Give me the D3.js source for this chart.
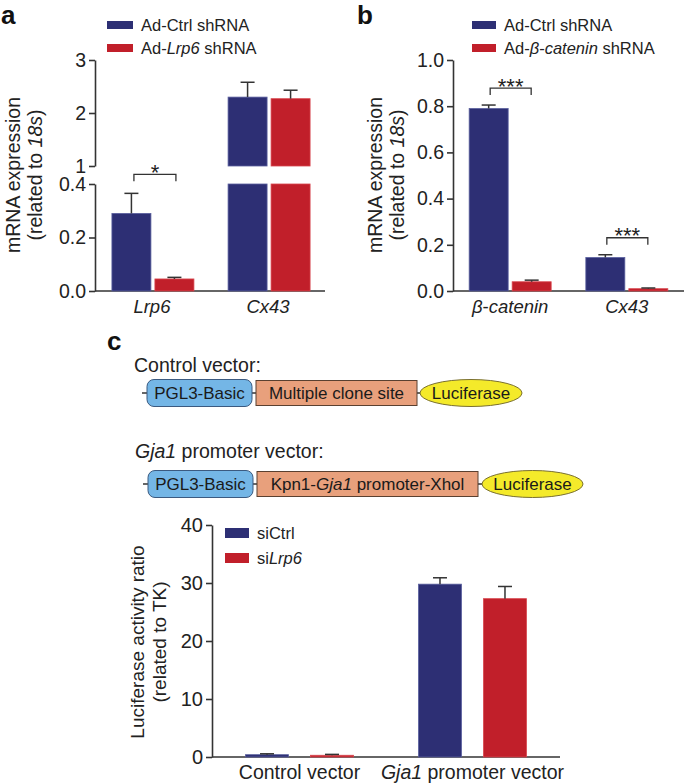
<!DOCTYPE html>
<html>
<head>
<meta charset="utf-8">
<script src="https://cdn.jsdelivr.net/npm/d3@7"></script>
<style>
  html, body { margin: 0; padding: 0; background: #fff; }
  svg { display: block; font-family: "Liberation Sans", Arial, Helvetica, sans-serif; }
</style>
</head>
<body>
<svg id="chart" width="685" height="784"></svg>
<script>
// ---------------- DATA ----------------
// Panel a
const categoriesA = ["Lrp6", "Cx43"];
const seriesNamesA = ["Ad-Ctrl shRNA", "Ad-Lrp6 shRNA"];
const ctrlA = [0.29, 2.30];
const ctrlErrA = [0.075, 0.28];
const shA = [0.045, 2.27];
const shErrA = [0.006, 0.16];
const ticksLowA = [0.0, 0.2, 0.4];
const ticksHighA = [1, 2, 3];
const sigA = ["*", ""];

// Panel b
const categoriesB = ["β-catenin", "Cx43"];
const seriesNamesB = ["Ad-Ctrl shRNA", "Ad-β-catenin shRNA"];
const ctrlB = [0.79, 0.145];
const ctrlErrB = [0.015, 0.012];
const shB = [0.04, 0.01];
const shErrB = [0.007, 0.003];
const ticksB = [0.0, 0.2, 0.4, 0.6, 0.8, 1.0];
const sigB = ["***", "***"];

// Panel c
const categoriesC = ["Control vector", "Gja1 promoter vector"];
const seriesNamesC = ["siCtrl", "siLrp6"];
const siCtrl = [0.4, 29.8];
const siCtrlErr = [0.15, 1.1];
const siLrp6 = [0.3, 27.3];
const siLrp6Err = [0.15, 2.1];
const ticksC = [0, 10, 20, 30, 40];

// ---------------- STYLE ----------------
const BLUE = "#2d2f74", BLUE_S = "#5a5f9e";
const RED = "#c11f2a", RED_S = "#d8464e";
const AX = "#333";
const FONT = "'Liberation Sans', Arial, Helvetica, sans-serif";

const svg = d3.select("#chart");

function italicParts(sel, parts) {
  parts.forEach(([t, it]) => {
    sel.append("tspan").text(t).attr("font-style", it ? "italic" : "normal");
  });
}

function legend(g, x, y, names, partsList, sw, sh, gap, fs) {
  names.forEach((n, i) => {
    g.append("rect").attr("x", x).attr("y", y + i * gap).attr("width", sw).attr("height", sh)
      .attr("fill", i === 0 ? BLUE : RED);
    const t = g.append("text").attr("x", x + sw + 8).attr("y", y + i * gap + sh / 2)
      .attr("dy", "0.36em").attr("font-size", fs).attr("fill", "#222");
    italicParts(t, partsList[i]);
  });
}

function errBar(g, cx, yTop, yVal, cap) {
  g.append("line").attr("x1", cx).attr("x2", cx).attr("y1", yVal).attr("y2", yTop)
    .attr("stroke", AX).attr("stroke-width", 1.5);
  g.append("line").attr("x1", cx - cap / 2).attr("x2", cx + cap / 2).attr("y1", yTop).attr("y2", yTop)
    .attr("stroke", AX).attr("stroke-width", 1.5);
}

function sigBracket(g, x1, x2, y, label) {
  g.append("path").attr("d", `M${x1},${y + 7}V${y}H${x2}V${y + 7}`)
    .attr("fill", "none").attr("stroke", AX).attr("stroke-width", 1.3);
  g.append("text").attr("x", (x1 + x2) / 2).attr("y", y + 5.5).attr("text-anchor", "middle")
    .attr("font-size", 22).attr("fill", "#222").text(label);
}

function yLabel(g, x1, x2, cy, line1, line2parts, fs) {
  g.append("text").attr("transform", `translate(${x1},${cy}) rotate(-90)`)
    .attr("text-anchor", "middle").attr("dy", "0.35em").attr("font-size", fs).attr("fill", "#222")
    .text(line1);
  const t = g.append("text").attr("transform", `translate(${x2},${cy}) rotate(-90)`)
    .attr("text-anchor", "middle").attr("dy", "0.35em").attr("font-size", fs).attr("fill", "#222");
  italicParts(t, line2parts);
}

function styleAxis(ax, fs) {
  ax.select(".domain").attr("stroke", AX).attr("stroke-width", 1.6);
  ax.selectAll(".tick line").attr("stroke", AX).attr("stroke-width", 1.6);
  ax.selectAll(".tick text").attr("font-size", fs).attr("fill", "#222").attr("font-family", FONT);
}

// ---------------- PANEL A ----------------
(function () {
  const g = svg.append("g");
  const xL = 95, xR = 325, y0 = 291;
  const yLow = d3.scaleLinear().domain([0, 0.4]).range([y0, 184]);
  const yHigh = d3.scaleLinear().domain([1, 3]).range([166, 60]);
  const x = d3.scalePoint().domain(categoriesA).range([xL, xR]).padding(0.49);

  g.append("text").attr("x", 1).attr("y", 24).attr("font-size", 26).attr("font-weight", "bold")
    .attr("fill", "#111").text("a");

  const axLow = g.append("g").attr("transform", `translate(${xL},0)`)
    .call(d3.axisLeft(yLow).tickValues(ticksLowA).tickFormat(d3.format(".1f")).tickSize(6).tickSizeOuter(0));
  styleAxis(axLow, 19.5);
  const axHigh = g.append("g").attr("transform", `translate(${xL},0)`)
    .call(d3.axisLeft(yHigh).tickValues(ticksHighA).tickFormat(d3.format("d")).tickSize(6).tickSizeOuter(0));
  styleAxis(axHigh, 19.5);

  g.append("line").attr("x1", xL).attr("x2", xR).attr("y1", y0).attr("y2", y0)
    .attr("stroke", AX).attr("stroke-width", 1.6);

  const bw = 39;
  const series = [
    { v: ctrlA, e: ctrlErrA, off: -40, fill: BLUE, s: BLUE_S },
    { v: shA, e: shErrA, off: 3, fill: RED, s: RED_S }
  ];
  series.forEach(sr => {
    categoriesA.forEach((c, i) => {
      const bx = x(c) + sr.off;
      const v = sr.v[i], e = sr.e[i];
      if (v <= 0.4) {
        g.append("rect").attr("x", bx).attr("y", yLow(v)).attr("width", bw).attr("height", yLow(0) - yLow(v))
          .attr("fill", sr.fill).attr("stroke", sr.s).attr("stroke-width", 0.8);
        errBar(g, bx + bw / 2, yLow(v + e), yLow(v), 14);
      } else {
        g.append("rect").attr("x", bx).attr("y", yLow(0.4)).attr("width", bw).attr("height", yLow(0) - yLow(0.4))
          .attr("fill", sr.fill).attr("stroke", sr.s).attr("stroke-width", 0.8);
        g.append("rect").attr("x", bx).attr("y", yHigh(v)).attr("width", bw).attr("height", yHigh(1) - yHigh(v))
          .attr("fill", sr.fill).attr("stroke", sr.s).attr("stroke-width", 0.8);
        errBar(g, bx + bw / 2, yHigh(v + e), yHigh(v), 14);
      }
    });
  });

  categoriesA.forEach((c, i) => {
    if (sigA[i]) {
      const top = yLow(ctrlA[i] + ctrlErrA[i]);
      sigBracket(g, x(c) - 18, x(c) + 24, top - 19, sigA[i]);
    }
    g.append("text").attr("x", x(c)).attr("y", 313).attr("text-anchor", "middle")
      .attr("font-size", 18.5).attr("font-style", "italic").attr("fill", "#222").text(c);
  });

  legend(g, 107, 21, seriesNamesA, [[["Ad-Ctrl shRNA", false]], [["Ad-", false], ["Lrp6", true], [" shRNA", false]]], 26, 8, 23, 16.5);
  yLabel(g, 13, 35, 175, "mRNA expression", [["(related to ", false], ["18s", true], [")", false]], 19.5);
})();

// ---------------- PANEL B ----------------
(function () {
  const g = svg.append("g");
  const xL = 453, xR = 684, y0 = 291;
  const y = d3.scaleLinear().domain([0, 1.0]).range([y0, 60]);
  const x = d3.scalePoint().domain(categoriesB).range([xL, xR]).padding(0.49);

  g.append("text").attr("x", 357).attr("y", 24).attr("font-size", 26).attr("font-weight", "bold")
    .attr("fill", "#111").text("b");

  const ax = g.append("g").attr("transform", `translate(${xL},0)`)
    .call(d3.axisLeft(y).tickValues(ticksB).tickFormat(d3.format(".1f")).tickSize(6).tickSizeOuter(0));
  styleAxis(ax, 19.5);
  g.append("line").attr("x1", xL).attr("x2", xR).attr("y1", y0).attr("y2", y0)
    .attr("stroke", AX).attr("stroke-width", 1.6);

  const bw = 39;
  const series = [
    { v: ctrlB, e: ctrlErrB, off: -41, fill: BLUE, s: BLUE_S },
    { v: shB, e: shErrB, off: 2, fill: RED, s: RED_S }
  ];
  series.forEach(sr => {
    categoriesB.forEach((c, i) => {
      const bx = x(c) + sr.off;
      const v = sr.v[i], e = sr.e[i];
      g.append("rect").attr("x", bx).attr("y", y(v)).attr("width", bw).attr("height", y(0) - y(v))
        .attr("fill", sr.fill).attr("stroke", sr.s).attr("stroke-width", 0.8);
      errBar(g, bx + bw / 2, y(v + e), y(v), 14);
    });
  });

  categoriesB.forEach((c, i) => {
    if (sigB[i]) {
      const top = y(ctrlB[i] + ctrlErrB[i]);
      sigBracket(g, x(c) - 20, x(c) + 21, top - 17, sigB[i]);
    }
    const t = g.append("text").attr("x", x(c)).attr("y", 313).attr("text-anchor", "middle")
      .attr("font-size", 18.5).attr("fill", "#222");
    if (c.startsWith("β-")) {
      italicParts(t, [["β", true], ["-", false], [c.slice(2), true]]);
    } else {
      t.attr("font-style", "italic").text(c);
    }
  });

  legend(g, 472, 21, seriesNamesB, [[["Ad-Ctrl shRNA", false]], [["Ad-", false], ["β", true], ["-", false], ["catenin", true], [" shRNA", false]]], 24, 8, 23, 16.5);
  yLabel(g, 375, 397, 175, "mRNA expression", [["(related to ", false], ["18s", true], [")", false]], 19.5);
})();

// ---------------- PANEL C: vector diagrams ----------------
(function () {
  const g = svg.append("g");
  g.append("text").attr("x", 107).attr("y", 350).attr("font-size", 26).attr("font-weight", "bold")
    .attr("fill", "#111").text("c");

  g.append("text").attr("x", 134).attr("y", 372).attr("font-size", 19.5).attr("fill", "#222")
    .text("Control vector:");
  const t2 = g.append("text").attr("x", 135).attr("y", 458).attr("font-size", 19.5).attr("fill", "#222");
  italicParts(t2, [["Gja1", true], [" promoter vector:", false]]);

  function construct(cy, blue, orange, ell, orangeParts) {
    g.append("line").attr("x1", blue[0] - 5).attr("x2", ell[0]).attr("y1", cy).attr("y2", cy)
      .attr("stroke", "#333").attr("stroke-width", 1.5);
    g.append("rect").attr("x", blue[0]).attr("y", cy - 13.5).attr("width", blue[1] - blue[0]).attr("height", 27)
      .attr("rx", 7).attr("fill", "#74b6e6").attr("stroke", "#3b5a80").attr("stroke-width", 1);
    g.append("text").attr("x", (blue[0] + blue[1]) / 2).attr("y", cy).attr("dy", "0.36em")
      .attr("text-anchor", "middle").attr("font-size", 17).attr("fill", "#1a1a1a").text("PGL3-Basic");
    g.append("rect").attr("x", orange[0]).attr("y", cy - 12.5).attr("width", orange[1] - orange[0]).attr("height", 25)
      .attr("fill", "#e8a07c").attr("stroke", "#5a4030").attr("stroke-width", 1);
    const ot = g.append("text").attr("x", (orange[0] + orange[1]) / 2).attr("y", cy).attr("dy", "0.36em")
      .attr("text-anchor", "middle").attr("font-size", 17).attr("fill", "#1a1a1a");
    italicParts(ot, orangeParts);
    g.append("ellipse").attr("cx", (ell[0] + ell[1]) / 2).attr("cy", cy).attr("rx", (ell[1] - ell[0]) / 2).attr("ry", 13.5)
      .attr("fill", "#f4ea2a").attr("stroke", "#7a7030").attr("stroke-width", 1);
    g.append("text").attr("x", (ell[0] + ell[1]) / 2).attr("y", cy).attr("dy", "0.36em")
      .attr("text-anchor", "middle").attr("font-size", 17).attr("fill", "#1a1a1a").text("Luciferase");
  }
  construct(393, [147, 252], [256, 417], [420, 522], [["Multiple clone site", false]]);
  construct(484, [148, 253], [257, 478], [482, 583], [["Kpn1-", false], ["Gja1", true], [" promoter-Xhol", false]]);
})();

// ---------------- PANEL C: chart ----------------
(function () {
  const g = svg.append("g");
  const xL = 212, xR = 560, y0 = 757;
  const y = d3.scaleLinear().domain([0, 40]).range([y0, 525]);
  const x = d3.scalePoint().domain(categoriesC).range([xL, xR]).padding(0.506);

  const ax = g.append("g").attr("transform", `translate(${xL},0)`)
    .call(d3.axisLeft(y).tickValues(ticksC).tickFormat(d3.format("d")).tickSize(6).tickSizeOuter(0));
  styleAxis(ax, 20);
  g.append("line").attr("x1", xL).attr("x2", xR).attr("y1", y0).attr("y2", y0)
    .attr("stroke", AX).attr("stroke-width", 1.6);

  const bw = 43;
  const series = [
    { v: siCtrl, e: siCtrlErr, off: -54, fill: BLUE, s: BLUE_S },
    { v: siLrp6, e: siLrp6Err, off: 11, fill: RED, s: RED_S }
  ];
  series.forEach(sr => {
    categoriesC.forEach((c, i) => {
      const bx = x(c) + sr.off;
      const v = sr.v[i], e = sr.e[i];
      g.append("rect").attr("x", bx).attr("y", y(v)).attr("width", bw).attr("height", y(0) - y(v))
        .attr("fill", sr.fill).attr("stroke", sr.s).attr("stroke-width", 0.8);
      errBar(g, bx + bw / 2, y(v + e), y(v), 14);
    });
  });

  categoriesC.forEach((c, i) => {
    const t = g.append("text").attr("x", x(c)).attr("y", 779).attr("text-anchor", "middle")
      .attr("font-size", 19.5).attr("fill", "#222");
    if (c.startsWith("Gja1")) {
      italicParts(t, [["Gja1", true], [c.slice(4), false]]);
    } else {
      t.text(c);
    }
  });

  legend(g, 225, 528, seriesNamesC, [[["siCtrl", false]], [["si", false], ["Lrp6", true]]], 24, 10, 25, 16.5);
  yLabel(g, 137, 159, 642, "Luciferase activity ratio", [["(related to TK)", false]], 19);
})();
</script>
</body>
</html>
